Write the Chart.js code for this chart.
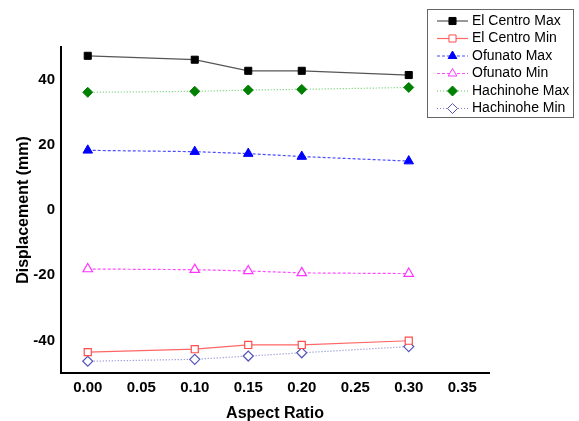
<!DOCTYPE html>
<html>
<head>
<meta charset="utf-8">
<script src="https://cdn.jsdelivr.net/npm/chart.js@4.4.1/dist/chart.umd.min.js"></script>
<style>
  html, body { margin: 0; padding: 0; background: #fff; }
  #wrap { position: relative; width: 579px; height: 421px; }
</style>
</head>
<body>
<div id="wrap"><canvas id="grafico-deslocamento"></canvas></div>
<script>
// dados
const aspectRatio = [0.00, 0.10, 0.15, 0.20, 0.30];
const elCentroMax = [47.3, 46.1, 42.7, 42.7, 41.4];
const elCentroMin = [-43.6, -42.7, -41.4, -41.4, -40.1];
const ofunatoMax = [18.3, 17.9, 17.3, 16.4, 15.0];
const ofunatoMin = [-18.1, -18.3, -18.7, -19.3, -19.5];
const hachinoheMax = [36.1, 36.4, 36.8, 37.0, 37.6];
const hachinoheMin = [-46.4, -45.8, -44.8, -43.8, -41.9];
const xTicks = [0, 0.05, 0.10, 0.15, 0.20, 0.25, 0.30, 0.35];
const yTicks = [-40, -20, 0, 20, 40];

const pontos = (ys) => ys.map((y, i) => ({ x: aspectRatio[i], y: y }));

// legenda desenhada dentro da caixa, com linha + marcador
const legendaCaixa = {
  id: 'legendaCaixa',
  afterDraw(chart) {
    const ctx = chart.ctx;
    ctx.save();
    ctx.strokeStyle = '#666';
    ctx.lineWidth = 1;
    ctx.setLineDash([]);
    ctx.strokeRect(427.5, 9.5, 146, 108);
    ctx.font = '14px "Liberation Sans", Arial, sans-serif';
    ctx.textBaseline = 'middle';
    chart.data.datasets.forEach((ds, i) => {
      const y = 21 + i * 17.5;
      ctx.strokeStyle = ds.borderColor;
      ctx.lineWidth = ds.borderWidth;
      ctx.setLineDash(ds.borderDash || []);
      ctx.beginPath();
      ctx.moveTo(437, y);
      ctx.lineTo(468, y);
      ctx.stroke();
      ctx.setLineDash([]);
      ctx.fillStyle = ds.pointBackgroundColor;
      ctx.strokeStyle = ds.pointBorderColor;
      ctx.lineWidth = 1;
      Chart.helpers.drawPoint(ctx, { pointStyle: ds.pointStyle, radius: 5, rotation: 0, borderWidth: 1 }, 452.5, y);
      ctx.fillStyle = '#000';
      ctx.fillText(ds.label, 472, y);
    });
    ctx.restore();
  }
};

const ctxDesloc = document.getElementById('grafico-deslocamento');
new Chart(ctxDesloc, {
  type: 'line',
  data: {
    datasets: [
      {
        label: 'El Centro Max',
        data: pontos(elCentroMax),
        borderColor: '#555555',
        borderWidth: 1.2,
        pointStyle: 'rect',
        pointRadius: 5,
        pointBackgroundColor: '#000000',
        pointBorderColor: '#000000',
        pointBorderWidth: 1
      },
      {
        label: 'El Centro Min',
        data: pontos(elCentroMin),
        borderColor: '#ff6666',
        borderWidth: 1.2,
        pointStyle: 'rect',
        pointRadius: 5,
        pointBackgroundColor: '#ffffff',
        pointBorderColor: '#ff4d4d',
        pointBorderWidth: 1.2
      },
      {
        label: 'Ofunato Max',
        data: pontos(ofunatoMax),
        borderColor: '#4d4dff',
        borderWidth: 1.2,
        borderDash: [3, 2],
        pointStyle: 'triangle',
        pointRadius: 5.5,
        pointBackgroundColor: '#0000ff',
        pointBorderColor: '#0000ff',
        pointBorderWidth: 1
      },
      {
        label: 'Ofunato Min',
        data: pontos(ofunatoMin),
        borderColor: '#ff4dff',
        borderWidth: 1.2,
        borderDash: [3, 2],
        pointStyle: 'triangle',
        pointRadius: 5.5,
        pointBackgroundColor: '#ffffff',
        pointBorderColor: '#ff33ff',
        pointBorderWidth: 1.2
      },
      {
        label: 'Hachinohe Max',
        data: pontos(hachinoheMax),
        borderColor: '#66cc66',
        borderWidth: 1.2,
        borderDash: [1, 2],
        pointStyle: 'rectRot',
        pointRadius: 5,
        pointBackgroundColor: '#008000',
        pointBorderColor: '#008000',
        pointBorderWidth: 1
      },
      {
        label: 'Hachinohe Min',
        data: pontos(hachinoheMin),
        borderColor: '#8080cc',
        borderWidth: 1.2,
        borderDash: [1, 2],
        pointStyle: 'rectRot',
        pointRadius: 5,
        pointBackgroundColor: '#ffffff',
        pointBorderColor: '#5555bb',
        pointBorderWidth: 1.2
      }
    ]
  },
  options: {
    responsive: true,
    maintainAspectRatio: false,
    animation: false,
    layout: { padding: { top: 47, right: 90, bottom: 0, left: 0 } },
    plugins: { legend: { display: false }, tooltip: { enabled: false } },
    scales: {
      x: {
        type: 'linear',
        min: -0.025,
        max: 0.375,
        afterBuildTicks: (s) => { s.ticks = xTicks.map(v => ({ value: v })); },
        afterFit: (s) => { s.height = 48; },
        grid: { display: false, drawTicks: false },
        border: { display: true, color: '#000', width: 2 },
        ticks: {
          padding: 6,
          color: '#000',
          font: { family: '"Liberation Sans", Arial, sans-serif', size: 15, weight: 'bold' },
          callback: (v) => v.toFixed(2)
        },
        title: {
          display: true,
          text: 'Aspect Ratio',
          color: '#000',
          padding: { top: 0, bottom: -2 },
          font: { family: '"Liberation Sans", Arial, sans-serif', size: 16, weight: 'bold' }
        }
      },
      y: {
        min: -50,
        max: 50,
        afterBuildTicks: (s) => { s.ticks = yTicks.map(v => ({ value: v })); },
        afterFit: (s) => { s.width = 61; },
        grid: { display: false, drawTicks: false },
        border: { display: true, color: '#000', width: 2 },
        ticks: {
          padding: 6,
          color: '#000',
          font: { family: '"Liberation Sans", Arial, sans-serif', size: 15, weight: 'bold' }
        },
        title: {
          display: true,
          text: 'Displacement (mm)',
          color: '#000',
          padding: { top: 14, bottom: 0 },
          font: { family: '"Liberation Sans", Arial, sans-serif', size: 16, weight: 'bold' }
        }
      }
    }
  },
  plugins: [legendaCaixa]
});
</script>
</body>
</html>
